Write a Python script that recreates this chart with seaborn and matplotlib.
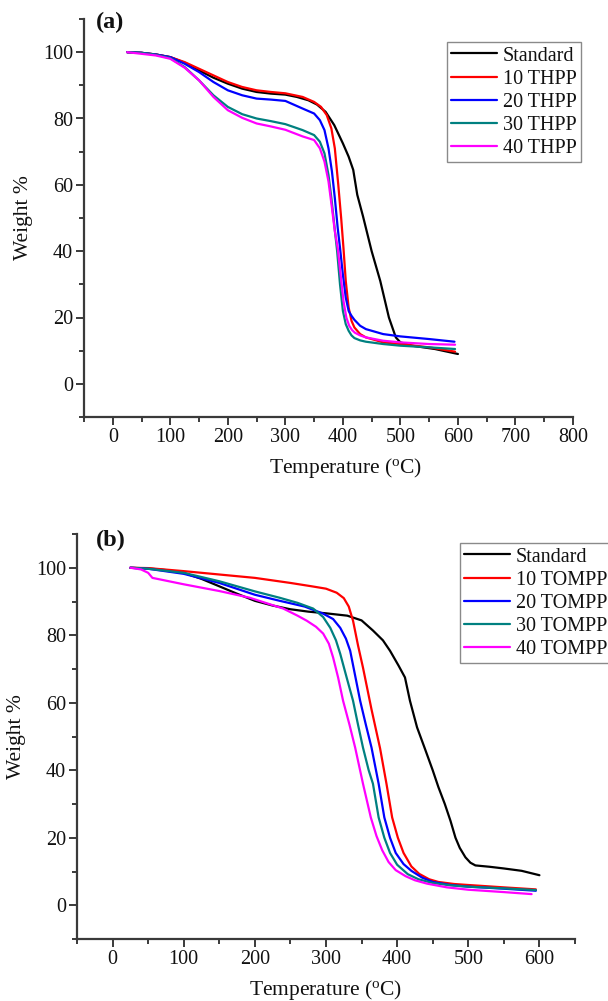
import numpy as np
import pandas as pd
import matplotlib
matplotlib.use("Agg")
import matplotlib.pyplot as plt
from matplotlib.ticker import MultipleLocator
import seaborn as sns

# ---------------- Panel (a): THPP series ----------------
a_labels = ["Standard", "10 THPP", "20 THPP", "30 THPP", "40 THPP"]

a_std_T = [25, 50, 75, 100, 125, 150, 175, 200, 225, 250, 275, 300, 320, 340, 355, 370, 385, 400,
           410, 418, 425, 435, 450, 465, 480, 492, 500, 510, 520, 560, 600]
a_std_W = [100, 99.8, 99.3, 98.5, 96.8, 94.5, 92.3, 90.5, 89.0, 88, 87.5, 87.2, 86.5, 85.5, 84.2, 82, 78, 72.5,
           68.5, 64.5, 57, 50.5, 40, 31, 20, 14, 12.5, 12, 11.5, 10.5, 9.0]

a_10_T = [25, 50, 75, 100, 125, 150, 175, 200, 225, 250, 275, 300, 330, 350, 362, 372, 380, 386, 392,
          397, 401, 405, 410, 415, 420, 430, 440, 470, 500, 550, 595]
a_10_W = [100, 99.8, 99.3, 98.5, 97, 95, 93, 91, 89.5, 88.5, 88, 87.6, 86.5, 85, 83.5, 81, 77, 71, 60,
          50, 41, 31, 23, 19, 17, 15, 14, 12.5, 12, 11, 9.7]

a_20_T = [25, 50, 75, 100, 125, 150, 175, 200, 225, 250, 275, 300, 330, 350, 360, 368, 375, 381, 386,
          391, 395, 400, 405, 410, 415, 420, 430, 440, 470, 500, 550, 594]
a_20_W = [100, 99.8, 99.3, 98.5, 96.5, 94, 91, 88.5, 87, 86, 85.7, 85.3, 83, 81.5, 79.5, 76.5, 71, 64, 56,
          47, 41, 33, 26, 22, 20.5, 19.3, 17.5, 16.5, 15, 14.3, 13.5, 12.7]

a_30_T = [25, 50, 75, 100, 125, 150, 175, 200, 225, 250, 275, 300, 330, 350, 360, 368, 375, 380, 385,
          390, 395, 400, 405, 410, 415, 420, 430, 440, 470, 500, 550, 595]
a_30_W = [100, 99.8, 99.2, 98.2, 95.5, 91.5, 87, 83.5, 81.3, 80, 79.2, 78.3, 76.5, 75, 73, 69.5, 63, 56, 48,
          40, 30, 22, 18, 16, 14.6, 13.8, 13.1, 12.7, 12, 11.5, 11, 10.5]

a_40_T = [25, 50, 75, 100, 125, 150, 175, 200, 225, 250, 275, 300, 330, 350, 360, 368, 375, 381, 386,
          391, 396, 401, 406, 411, 416, 421, 430, 440, 470, 500, 550, 595]
a_40_W = [100, 99.5, 99, 98, 95.3, 91.5, 86.5, 82.5, 80.2, 78.5, 77.6, 76.6, 74.6, 73.5, 71, 67, 61, 53, 46,
          41, 33, 25, 20, 17.5, 16.2, 15.4, 14.6, 14, 13, 12.5, 12, 11.8]

# ---------------- Panel (b): TOMPP series ----------------
b_labels = ["Standard", "10 TOMPP", "20 TOMPP", "30 TOMPP", "40 TOMPP"]

b_std_T = [25, 50, 75, 100, 125, 150, 175, 200, 225, 250, 275, 300, 330, 350, 366, 380, 390, 402, 411, 418,
           428, 439, 450, 458, 467, 475, 482, 488, 496, 503, 510, 530, 550, 575, 600]
b_std_W = [100, 99.8, 99.3, 98.5, 96.7, 94.5, 92.3, 90.2, 88.8, 87.7, 87.0, 86.5, 85.8, 84.4, 81.4, 78.5, 75.4,
           71, 67.5, 60.6, 52.7, 46.4, 40, 35, 30, 25, 20, 17, 14.2, 12.6, 11.8, 11.4, 10.9, 10.2, 8.9]

b_10_T = [25, 50, 100, 150, 200, 250, 280, 300, 315, 325, 332, 338, 345, 352, 364, 376, 385, 393, 401,
          409, 420, 431, 445, 458, 480, 500, 550, 595]
b_10_W = [100, 99.9, 99, 98, 97, 95.5, 94.5, 93.8, 92.6, 91, 88.5, 84.3, 77, 70.4, 58, 46.5, 36, 26, 20,
          15.5, 11.5, 9.3, 7.7, 6.9, 6.3, 6, 5.3, 4.7]

b_20_T = [25, 50, 100, 150, 200, 235, 270, 296, 310, 320, 328, 334, 341, 348, 356, 364, 374, 382, 390,
          398, 409, 420, 435, 450, 475, 500, 550, 595]
b_20_W = [100, 99.7, 98.2, 95.5, 92, 90.2, 88.5, 86.4, 84.8, 82.2, 79, 75.4, 68, 60.6, 53.5, 46.7, 36, 26, 20,
          15.5, 12.2, 10.2, 8.2, 6.9, 6.0, 5.5, 4.9, 4.3]

b_30_T = [25, 50, 100, 150, 200, 235, 260, 282, 296, 306, 314, 320, 329, 338, 345, 352, 360, 366, 374,
          382, 390, 400, 415, 430, 450, 475, 500, 550, 595]
b_30_W = [100, 99.7, 98.5, 96, 93, 91.1, 89.6, 87.9, 85.4, 82.2, 78.5, 74.5, 67.5, 60.6, 53.5, 46.7, 40, 36,
          26, 20, 15.5, 12, 9.2, 7.7, 6.6, 5.9, 5.5, 5, 4.5]

b_40_T = [25, 40, 50, 56, 100, 150, 193, 240, 260, 273, 286, 296, 304, 310, 317, 324, 333, 341, 352, 363,
          371, 379, 388, 398, 412, 425, 442, 470, 500, 550, 589]
b_40_W = [100, 99.5, 98.5, 97, 95.1, 93.1, 91.1, 87.9, 85.8, 84.3, 82.5, 80.5, 77.5, 73.4, 67.5, 60.6, 53.5,
          46.7, 36, 26, 20.5, 16.3, 12.8, 10.4, 8.6, 7.4, 6.4, 5.3, 4.6, 3.9, 3.3]

line_colors = ["#000000", "#ff0000", "#0000ff", "#008080", "#ff00ff"]


def long_frame(labels, series):
    frames = []
    for lab, (t, w) in zip(labels, series):
        frames.append(pd.DataFrame({"T": t, "W": w, "Sample": lab}))
    return pd.concat(frames, ignore_index=True)


df_a = long_frame(a_labels, [(a_std_T, a_std_W), (a_10_T, a_10_W), (a_20_T, a_20_W),
                             (a_30_T, a_30_W), (a_40_T, a_40_W)])
df_b = long_frame(b_labels, [(b_std_T, b_std_W), (b_10_T, b_10_W), (b_20_T, b_20_W),
                             (b_30_T, b_30_W), (b_40_T, b_40_W)])

sns.set_theme(style="ticks")
plt.rcParams["font.family"] = ["Liberation Serif", "DejaVu Serif"]
plt.rcParams["mathtext.fontset"] = "custom"
plt.rcParams["mathtext.rm"] = "Liberation Serif"

W_PX, H_PX = 608, 1001
fig = plt.figure(figsize=(W_PX / 100, H_PX / 100), dpi=100)


def px_axes(left, top, right, bottom):
    return fig.add_axes([left / W_PX, 1 - bottom / H_PX, (right - left) / W_PX, (bottom - top) / H_PX])


axis_col = "#3a3a3a"
txt_col = "#111111"


def style_axes(ax, xmax):
    for side in ["top", "right"]:
        ax.spines[side].set_visible(False)
    for side in ["left", "bottom"]:
        ax.spines[side].set_color(axis_col)
        ax.spines[side].set_linewidth(1.6)
    ax.xaxis.set_major_locator(MultipleLocator(100))
    ax.xaxis.set_minor_locator(MultipleLocator(50))
    ax.yaxis.set_major_locator(MultipleLocator(20))
    ax.yaxis.set_minor_locator(MultipleLocator(10))
    ax.set_ylim(-10, 110)
    ax.set_xlim(-50, xmax)
    ax.tick_params(which="major", direction="out", length=5.5, width=1.4, color=axis_col,
                   labelsize=14.5, labelcolor=txt_col, pad=2.5)
    ax.tick_params(which="minor", direction="out", length=3.5, width=1.4, color=axis_col)
    ax.set_xlabel(r"Temperature ($\mathregular{^o}$C)", fontsize=15.5, color=txt_col)
    ax.set_ylabel("Weight %", fontsize=15.5, color=txt_col)


def draw_panel(ax, df, labels, xmax, legend_xy, tag, tag_xy):
    sns.lineplot(data=df, x="T", y="W", hue="Sample", hue_order=labels,
                 palette=line_colors, sort=False, estimator=None, linewidth=1.6, ax=ax)
    style_axes(ax, xmax)
    handles, labs = ax.get_legend_handles_labels()
    leg = ax.legend(handles, labs, loc="upper left",
                    bbox_to_anchor=(legend_xy[0] / W_PX, 1 - legend_xy[1] / H_PX),
                    bbox_transform=fig.transFigure, frameon=True, fancybox=False,
                    edgecolor="#8a8a8a", framealpha=1, fontsize=14.5, handlelength=2.25,
                    handletextpad=0.3, borderpad=0.22, labelspacing=0.2,
                    borderaxespad=0)
    leg.get_frame().set_linewidth(1.0)
    for text in leg.get_texts():
        text.set_color(txt_col)
    fig.text(tag_xy[0] / W_PX, 1 - tag_xy[1] / H_PX, tag, fontsize=17.5, fontweight="bold",
             ha="left", va="top", color=txt_col)


ax_a = px_axes(84, 19, 573, 417)
draw_panel(ax_a, df_a, a_labels, 800, (447, 42), "(a)", (96, 12))
ax_a.xaxis.set_label_coords((346 - 84) / (573 - 84), -(456 - 417) / (417 - 19), transform=ax_a.transAxes)
ax_a.yaxis.set_label_coords(-(84 - 33) / (573 - 84), 0.5)

ax_b = px_axes(77, 534, 575, 939)
draw_panel(ax_b, df_b, b_labels, 650, (460, 543), "(b)", (96, 530))
ax_b.xaxis.set_label_coords(0.5, -(978 - 939) / (939 - 534))
ax_b.yaxis.set_label_coords(-(77 - 26) / (575 - 77), 0.5)

fig.savefig("out.png", dpi=100)
